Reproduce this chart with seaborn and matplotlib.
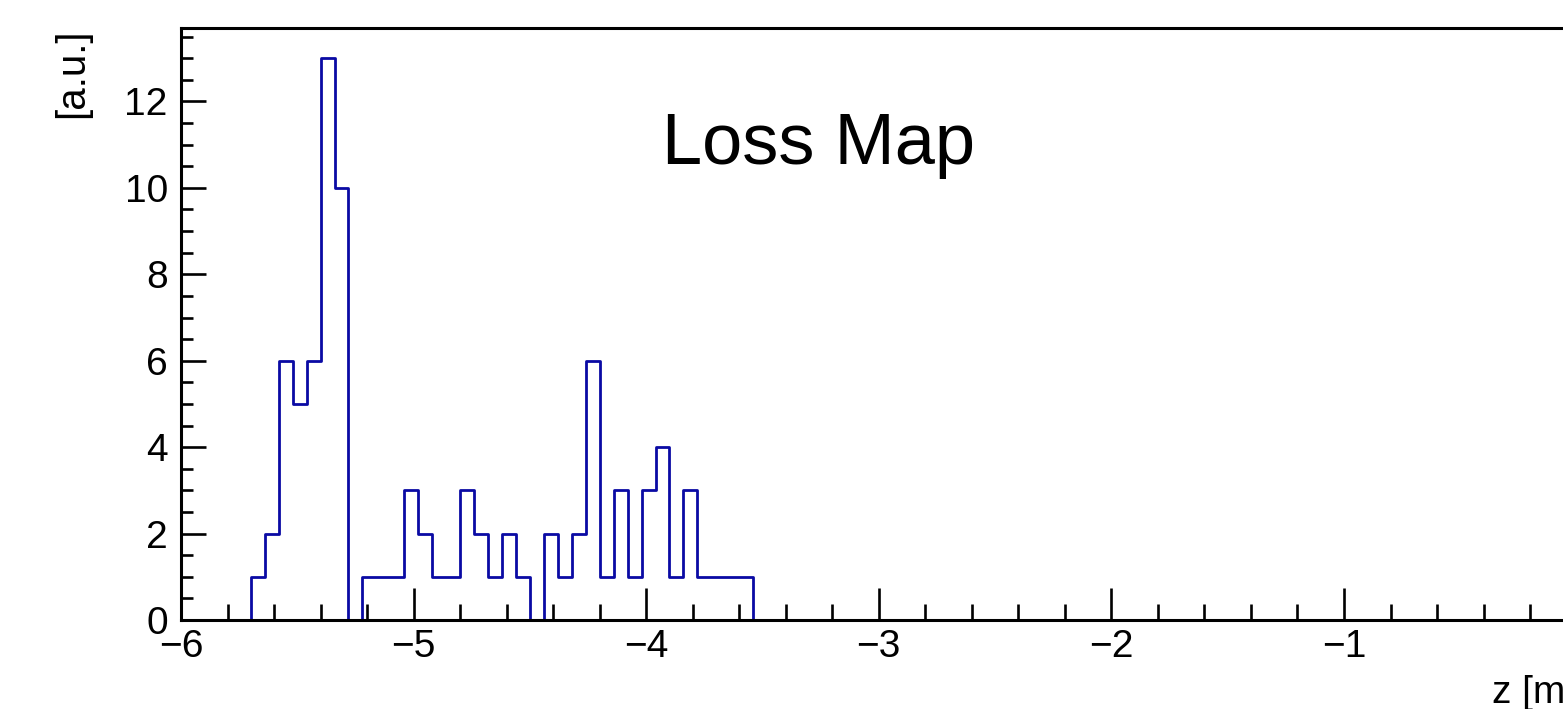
import numpy as np
import pandas as pd
import matplotlib
matplotlib.use("Agg")
import matplotlib.pyplot as plt
import matplotlib.transforms as mtransforms
import seaborn as sns
from matplotlib.ticker import MultipleLocator

# Histogram binning: 100 bins over z in [-6, 0] m
z_min, z_max, n_bins = -6.0, 0.0, 100

# Lost particles per bin (first 41 bins; the rest are empty)
loss_counts = [
    0, 0, 0, 0, 0, 1, 2, 6, 5, 6,
    13, 10, 0, 1, 1, 1, 3, 2, 1, 1,
    3, 2, 1, 2, 1, 0, 2, 1, 2, 6,
    1, 3, 1, 3, 4, 1, 3, 1, 1, 1,
    1,
]

title_text = "Loss Map"
x_label = "z [m]"
y_label = "[a.u.]"

edges = np.linspace(z_min, z_max, n_bins + 1)
counts = np.zeros(n_bins)
counts[: len(loss_counts)] = loss_counts
centers = 0.5 * (edges[:-1] + edges[1:])
hist_df = pd.DataFrame({"z": centers, "w": counts})

sns.set_style("ticks")
plt.rcParams["font.family"] = ["Liberation Sans", "DejaVu Sans"]
for key in ("text.color", "axes.labelcolor", "xtick.color", "ytick.color",
            "axes.edgecolor"):
    plt.rcParams[key] = "black"

W, H, DPI = 1563, 709, 100
fig = plt.figure(figsize=(W / DPI, H / DPI), dpi=DPI)
fig.patch.set_facecolor("white")

# Axes: left edge at x=181 px, one metre = 232.6 px, baseline at y=620 px
left, bottom, top = 181, 620, 28
width_px = 232.6 * (z_max - z_min)
ax = fig.add_axes([left / W, 1 - bottom / H, width_px / W, (bottom - top) / H])
ax.set_facecolor("white")

sns.histplot(
    data=hist_df, x="z", weights="w", bins=n_bins, binrange=(z_min, z_max),
    element="step", fill=False, color="#0a0aa4", linewidth=2.0, ax=ax, zorder=2,
)

ax.set_xlim(z_min, z_max)
ax.set_ylim(0, 13.7)

for side in ("left", "bottom", "top", "right"):
    ax.spines[side].set_linewidth(2.2)
    ax.spines[side].set_color("black")
    ax.spines[side].set_zorder(3)

ax.xaxis.set_major_locator(MultipleLocator(1))
ax.xaxis.set_minor_locator(MultipleLocator(0.2))
ax.yaxis.set_major_locator(MultipleLocator(2))
ax.yaxis.set_minor_locator(MultipleLocator(0.5))

ax.tick_params(axis="x", which="major", direction="in", length=23, width=1.9,
               pad=6.5, labelsize=28, top=False, colors="black")
ax.tick_params(axis="x", which="minor", direction="in", length=11.5, width=1.9,
               top=False, colors="black")
ax.tick_params(axis="y", which="major", direction="in", length=18, width=1.9,
               pad=9.5, labelsize=28, right=False, colors="black")
ax.tick_params(axis="y", which="minor", direction="in", length=8.6, width=1.9,
               right=False, colors="black")

ax.set_xlabel("")
ax.set_ylabel("")

# Lift the "0" label on the y axis a little so it clears the first x label
fig.canvas.draw()
zero_label = ax.get_yticklabels()[0]
zero_label.set_transform(zero_label.get_transform()
                         + mtransforms.ScaledTranslation(0, 4 / DPI, fig.dpi_scale_trans))

# Axis titles placed at the far ends of the axes
ax.text(1.0, -0.140, x_label, transform=ax.transAxes, ha="right",
        va="baseline", fontsize=28, color="black")
ax.text(-0.0777, 1.0, y_label, transform=ax.transAxes, ha="center", va="top",
        rotation=90, fontsize=29, color="black")

ax.text(-3.261, 10.56, title_text, ha="center", va="baseline", fontsize=52,
        color="black")

fig.savefig("out.png", dpi=DPI, facecolor="white")
